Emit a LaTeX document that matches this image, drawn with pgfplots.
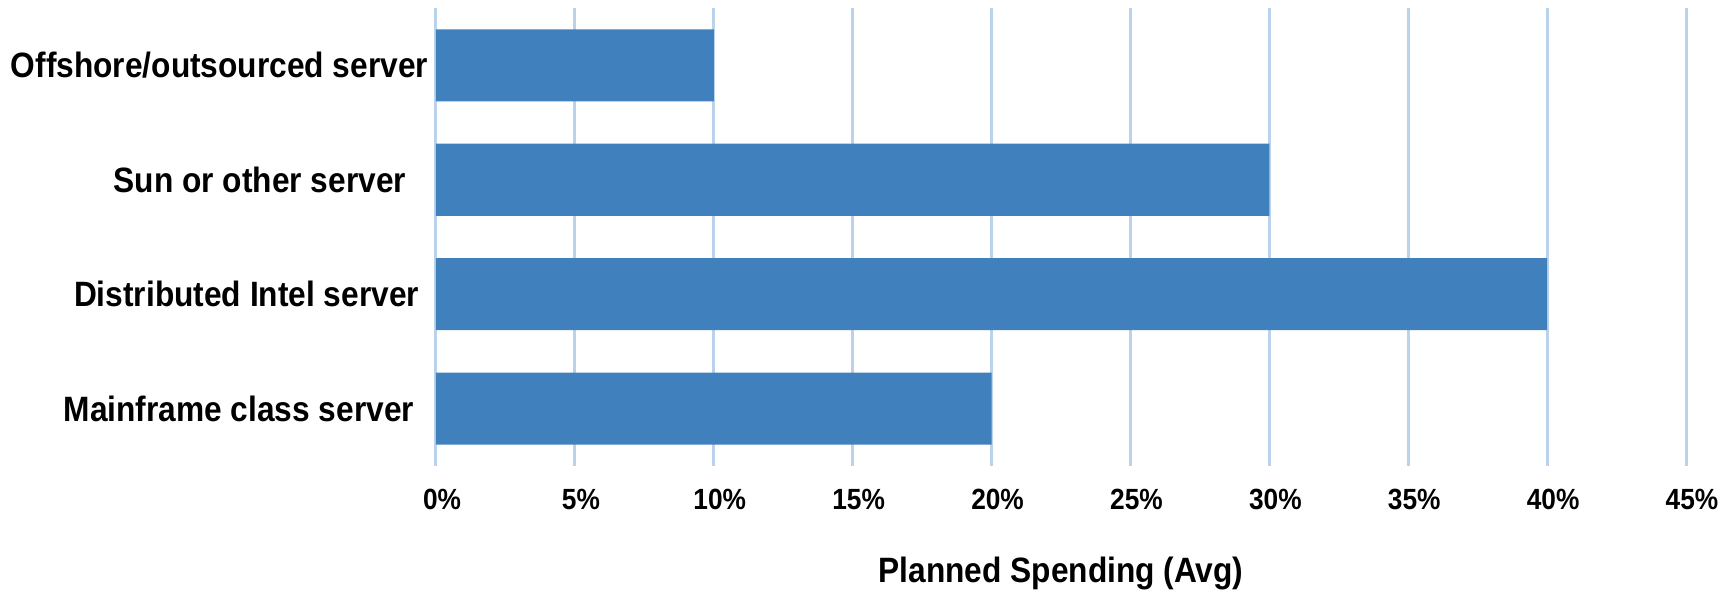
\documentclass[border=0pt]{standalone}
\usepackage{pgfplots}
\pgfplotsset{compat=1.18}
\usepackage{fontspec}
\setmainfont{Liberation Sans}
\newfontfamily\cond[FakeStretch=0.9]{Liberation Sans}

\definecolor{barblue}{RGB}{64,128,189}
\definecolor{gridblue}{RGB}{187,211,234}

\begin{document}
\begin{tikzpicture}
\begin{axis}[
    xbar,
    scale only axis,
    width=312.5pt,
    height=114.5pt,
    xmin=0, xmax=45,
    ymin=-0.5, ymax=3.5,
    xtick={0,5,...,45},
    ytick={0,1,2,3},
    yticklabels={
      {Mainframe class server\kern3.5pt},
      {Distributed Intel server\kern2.25pt},
      {Sun or other server\kern5.5pt},
      {Offshore/outsourced server}},
    xticklabel={\pgfmathprintnumber{\tick}\%},
    /pgf/number format/assume math mode=true,
    axis line style={draw=none},
    tick style={draw=none},
    xmajorgrids=true,
    major grid style={color=gridblue, line width=0.75pt},
    yticklabel style={font=\cond\fontsize{8.8}{10}\selectfont\bfseries, anchor=east, inner sep=0pt, xshift=2.5pt},
    xticklabel style={font=\cond\fontsize{7.3}{9}\selectfont\bfseries, anchor=center, inner sep=0pt, yshift=-8.25pt, xshift=1.5pt},
    xlabel={Planned Spending (Avg)},
    xlabel style={font=\cond\fontsize{8.8}{10}\selectfont\bfseries, at={(axis description cs:0.5,0)}, anchor=center, inner sep=0pt, yshift=-26.8pt},
    bar width=18pt,
    bar shift=0pt,
]
\addplot[fill=barblue, draw=none] coordinates {
  (20,0) (40,1) (30,2) (10,3)
};
\end{axis}
\pgfresetboundingbox
\path[use as bounding box] ([xshift=-109pt,yshift=-32.75pt]current axis.south west) rectangle ([xshift=11.75pt,yshift=2pt]current axis.north east);
\end{tikzpicture}
\end{document}
